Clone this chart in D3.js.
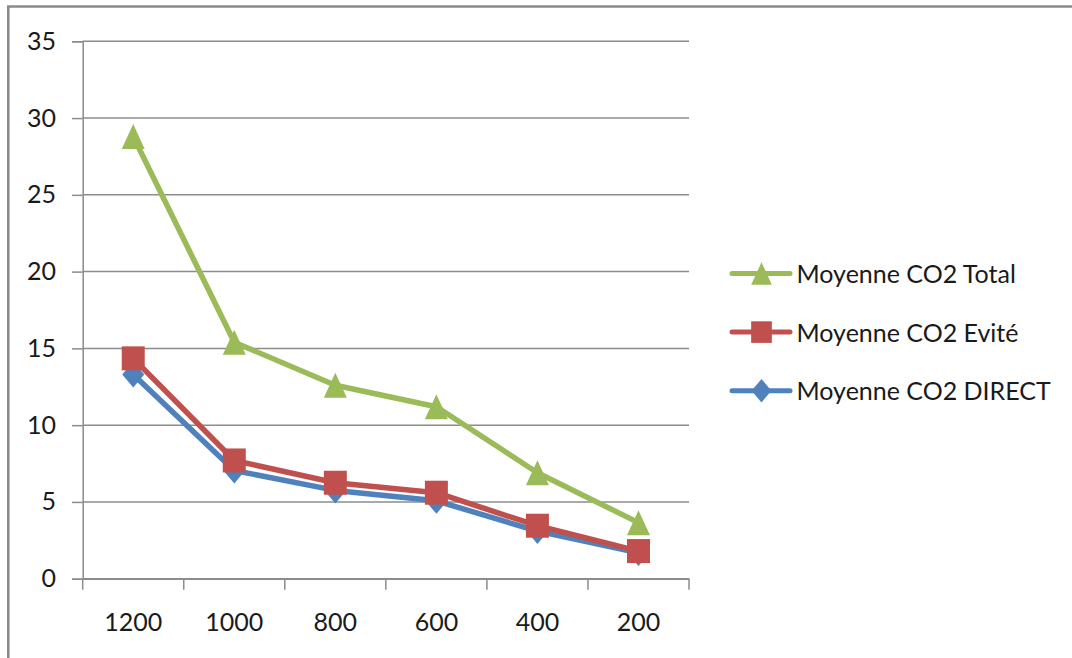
<!DOCTYPE html>
<html>
<head>
<meta charset="utf-8">
<script src="https://cdn.jsdelivr.net/npm/d3@7"></script>
<style>
  html, body { margin: 0; padding: 0; background: #fff; }
  svg { display: block; }
  text { font-family: Lato, "Open Sans", sans-serif; fill: #1a1a1a; }
</style>
</head>
<body>
<svg id="chart" width="1072" height="658"></svg>
<script>
// Distance categories (x axis, in display order)
const categories = ["1200", "1000", "800", "600", "400", "200"];

// Average CO2 per category
const totalValues  = [28.8, 15.4, 12.6, 11.2, 6.9, 3.65];
const eviteValues  = [14.35, 7.7, 6.25, 5.6, 3.45, 1.8];
const directValues = [13.3, 7.05, 5.75, 5.07, 3.1, 1.68];

// Y axis tick labels
const yTicks = [0, 5, 10, 15, 20, 25, 30, 35];

// Series names (legend order, top to bottom)
const seriesNames = ["Moyenne CO2 Total", "Moyenne CO2 Evité", "Moyenne CO2 DIRECT"];

const series = [
  { name: seriesNames[2], values: directValues, color: "#4F81BD", marker: "diamond" },
  { name: seriesNames[1], values: eviteValues,  color: "#C0504D", marker: "square" },
  { name: seriesNames[0], values: totalValues,  color: "#9BBB59", marker: "triangle" }
];

const svg = d3.select("#chart");
const plot = { left: 82.7, right: 689, top: 41.3, bottom: 578.7 };

const x = d3.scaleBand().domain(categories).range([plot.left, plot.right]);
const y = d3.scaleLinear().domain([0, 35]).range([plot.bottom, plot.top]);

// Outer chart-area frame (top and left edges visible)
svg.append("path")
  .attr("d", "M8.3,658 V6.5 H1072")
  .attr("fill", "none")
  .attr("stroke", "#8a8a8a")
  .attr("stroke-width", 2.6);

// Horizontal gridlines
svg.append("g")
  .selectAll("line")
  .data(yTicks)
  .join("line")
  .attr("x1", plot.left)
  .attr("x2", plot.right)
  .attr("y1", d => y(d))
  .attr("y2", d => y(d))
  .attr("stroke", "#8c8c8c")
  .attr("stroke-width", 1.5);

// Y axis
const yAxis = svg.append("g")
  .attr("transform", `translate(${plot.left},0)`)
  .call(d3.axisLeft(y).tickValues(yTicks).tickSize(10.7).tickPadding(16).tickFormat(d3.format("d")));
yAxis.select(".domain").attr("stroke", "#8c8c8c").attr("stroke-width", 1.5);
yAxis.selectAll(".tick line").attr("stroke", "#8c8c8c").attr("stroke-width", 1.5);
yAxis.selectAll(".tick text")
  .style("font-family", "Lato, sans-serif")
  .style("font-size", "25px")
  .attr("fill", "#1a1a1a");

// X axis: labels centred in each band, tick marks on band boundaries
const xAxis = svg.append("g")
  .attr("transform", `translate(0,${plot.bottom})`)
  .call(d3.axisBottom(x).tickSize(0).tickPadding(35));
xAxis.select(".domain").attr("stroke", "#8c8c8c").attr("stroke-width", 1.5);
xAxis.selectAll(".tick text")
  .style("font-family", "Lato, sans-serif")
  .style("font-size", "25px")
  .attr("fill", "#1a1a1a");

const boundaries = categories.map(c => x(c)).concat([x(categories[categories.length - 1]) + x.bandwidth()]);
xAxis.append("g")
  .selectAll("line")
  .data(boundaries)
  .join("line")
  .attr("x1", d => d)
  .attr("x2", d => d)
  .attr("y1", 0)
  .attr("y2", 11)
  .attr("stroke", "#8c8c8c")
  .attr("stroke-width", 1.5);

// Marker shapes
function markerPath(type) {
  if (type === "square") return "M-11.5,-12 H11.5 V12 H-11.5 Z";
  if (type === "triangle") return "M0,-12.5 L11.5,12.5 L-11.5,12.5 Z";
  return "M0,-13 L11,0 L0,13 L-11,0 Z"; // diamond
}

const line = d3.line()
  .x((d, i) => x(categories[i]) + x.bandwidth() / 2)
  .y(d => y(d));

const seriesG = svg.append("g");
series.forEach(s => {
  const g = seriesG.append("g");
  g.append("path")
    .datum(s.values)
    .attr("d", line)
    .attr("fill", "none")
    .attr("stroke", s.color)
    .attr("stroke-width", 5.5)
    .attr("stroke-linejoin", "round")
    .attr("stroke-linecap", "round");
  g.selectAll("path.marker")
    .data(s.values)
    .join("path")
    .attr("class", "marker")
    .attr("d", markerPath(s.marker))
    .attr("transform", (d, i) => `translate(${x(categories[i]) + x.bandwidth() / 2},${y(d)})`)
    .attr("fill", s.color);
});

// Legend
const legendOrder = [series[2], series[1], series[0]];
const legend = svg.append("g");
legendOrder.forEach((s, i) => {
  const ly = 273.5 + i * 58.6;
  const g = legend.append("g").attr("transform", `translate(0,${ly})`);
  g.append("line")
    .attr("x1", 732).attr("x2", 790)
    .attr("y1", 0).attr("y2", 0)
    .attr("stroke", s.color)
    .attr("stroke-width", 5)
    .attr("stroke-linecap", "round");
  g.append("path")
    .attr("d", markerPath(s.marker))
    .attr("transform", "translate(761.5,0) scale(0.9)")
    .attr("fill", s.color);
  g.append("text")
    .attr("x", 796.5)
    .attr("y", 9.5)
    .style("font-size", "25px")
    .text(s.name);
});
</script>
</body>
</html>
